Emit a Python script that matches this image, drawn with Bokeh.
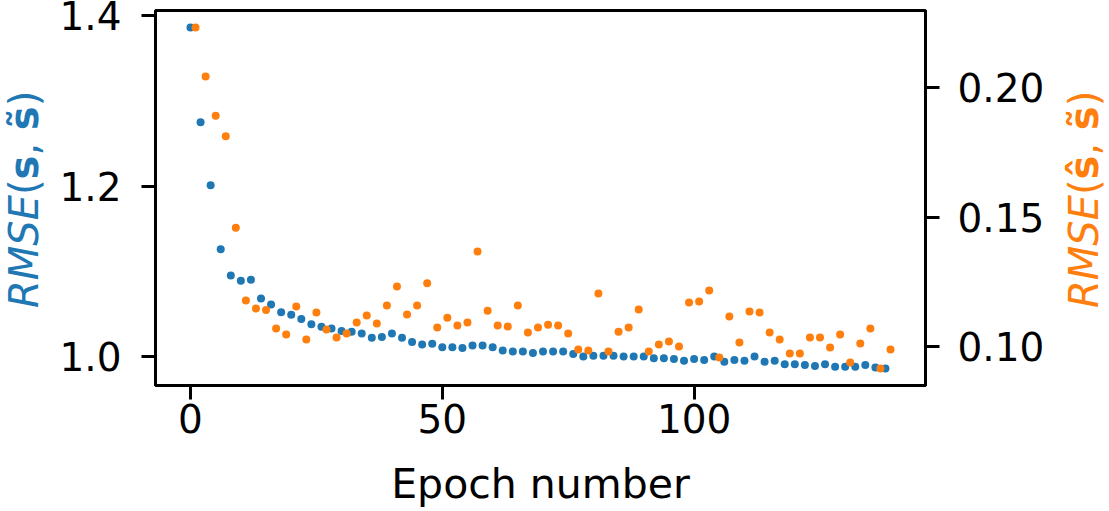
from bokeh.plotting import figure
from bokeh.layouts import row
from bokeh.models import (Range1d, LinearAxis, FixedTicker, NumeralTickFormatter, Div,
                          GlobalInlineStyleSheet)
from bokeh.embed import file_html
from bokeh.resources import INLINE

# ---- data ----
blue_epochs = [0, 2, 4, 6, 8, 10, 12, 14, 16, 18,
               20, 22, 24, 26, 28, 30, 32, 34, 36, 38,
               40, 42, 44, 46, 48, 50, 52, 54, 56, 58,
               60, 62, 64, 66, 68, 70, 72, 74, 76, 78,
               80, 82, 84, 86, 88, 90, 92, 94, 96, 98,
               100, 102, 104, 106, 108, 110, 112, 114, 116, 118,
               120, 122, 124, 126, 128, 130, 132, 134, 136, 138]
rmse_s_stilde = [1.386, 1.275, 1.201, 1.126, 1.095, 1.089, 1.090, 1.068, 1.061, 1.052,
                 1.049, 1.044, 1.038, 1.035, 1.033, 1.030, 1.029, 1.027, 1.022, 1.023,
                 1.027, 1.022, 1.017, 1.014, 1.015, 1.011, 1.011, 1.010, 1.013, 1.013,
                 1.011, 1.007, 1.006, 1.006, 1.004, 1.006, 1.006, 1.006, 1.003, 1.000,
                 1.001, 1.001, 1.001, 1.000, 1.000, 1.000, 0.998, 0.998, 0.997, 0.995,
                 0.997, 0.996, 1.000, 0.994, 0.996, 0.995, 1.000, 0.994, 0.995, 0.991,
                 0.991, 0.990, 0.989, 0.991, 0.988, 0.988, 0.988, 0.990, 0.987, 0.986]

orange_epochs = [1, 3, 5, 7, 9, 11, 13, 15, 17, 19,
                 21, 23, 25, 27, 29, 31, 33, 35, 37, 39,
                 41, 43, 45, 47, 49, 51, 53, 55, 57, 59,
                 61, 63, 65, 67, 69, 71, 73, 75, 77, 79,
                 81, 83, 85, 87, 89, 91, 93, 95, 97, 99,
                 101, 103, 105, 107, 109, 111, 113, 115, 117, 119,
                 121, 123, 125, 127, 129, 131, 133, 135, 137, 139]
rmse_shat_stilde = [0.2232, 0.2043, 0.1892, 0.1813, 0.1460, 0.1179, 0.1148, 0.1142, 0.1071, 0.1048,
                    0.1156, 0.1029, 0.1133, 0.1067, 0.1036, 0.1052, 0.1094, 0.1121, 0.1090, 0.1160,
                    0.1233, 0.1125, 0.1160, 0.1246, 0.1075, 0.1113, 0.1083, 0.1094, 0.1368, 0.1140,
                    0.1083, 0.1079, 0.1160, 0.1056, 0.1075, 0.1086, 0.1083, 0.1052, 0.0990, 0.0986,
                    0.1206, 0.0982, 0.1059, 0.1075, 0.1144, 0.0982, 0.1009, 0.1021, 0.1002, 0.1171,
                    0.1175, 0.1218, 0.0959, 0.1117, 0.1017, 0.1137, 0.1133, 0.1056, 0.1029, 0.0975,
                    0.0975, 0.1036, 0.1036, 0.0998, 0.1048, 0.0940, 0.1013, 0.1071, 0.0917, 0.0990]

x_ticks = [0, 50, 100]
left_ticks = [1.0, 1.2, 1.4]
right_ticks = [0.10, 0.15, 0.20]
x_label = "Epoch number"
left_label_html = "<i>RMSE</i>(<b>s</b>, <b>s&#771;</b>)"
right_label_html = "<i>RMSE</i>(<b>&#349;</b>, <b>s&#771;</b>)"

BLUE = "#1f77b4"
ORANGE = "#ff7f0e"
FONT = "DejaVu Sans"
FS = 39       # tick labels
FS_X = 41     # x axis title
FS_Y = 40     # y axis titles
H = 511
LEFT_W, MAIN_W, RIGHT_W = 50, 1004, 55


def padded(lo, hi, m=0.05):
    d = (hi - lo) * m
    return lo - d, hi + d


all_x = blue_epochs + orange_epochs
x0, x1 = padded(min(all_x), max(all_x))
yl0, yl1 = padded(min(rmse_s_stilde), max(rmse_s_stilde))
yr0, yr1 = padded(min(rmse_shat_stilde), max(rmse_shat_stilde))

p = figure(width=MAIN_W, height=H, x_range=Range1d(x0, x1), y_range=Range1d(yl0, yl1),
           output_backend="svg", toolbar_location=None, title=None,
           min_border_left=105, min_border_right=129, min_border_top=10, min_border_bottom=126)
p.extra_y_ranges = {"right": Range1d(yr0, yr1)}
p.grid.visible = False
p.outline_line_color = "black"
p.outline_line_width = 3
p.background_fill_color = "white"
p.border_fill_color = "white"

right_axis = LinearAxis(y_range_name="right")
p.add_layout(right_axis, "right")


def style_axis(ax, ticks, fmt, standoff):
    ax.ticker = FixedTicker(ticks=ticks)
    ax.formatter = NumeralTickFormatter(format=fmt)
    ax.axis_line_color = "black"
    ax.axis_line_width = 3
    ax.major_tick_line_color = "black"
    ax.major_tick_line_width = 3
    ax.major_tick_out = 14
    ax.major_tick_in = 0
    ax.minor_tick_line_color = None
    ax.major_label_text_font = FONT
    ax.major_label_text_font_size = f"{FS}px"
    ax.major_label_text_color = "black"
    ax.major_label_standoff = standoff


style_axis(p.xaxis[0], x_ticks, "0", 4)
style_axis(p.yaxis[0], left_ticks, "0.0", 20)
style_axis(right_axis, right_ticks, "0.00", 18)

p.xaxis[0].axis_label = x_label
p.xaxis[0].axis_label_text_font = FONT
p.xaxis[0].axis_label_text_font_size = f"{FS_X}px"
p.xaxis[0].axis_label_text_font_style = "normal"
p.xaxis[0].axis_label_text_color = "black"
p.xaxis[0].axis_label_standoff = 24

p.scatter(blue_epochs, rmse_s_stilde, size=8, color=BLUE, line_color=None)
p.scatter(orange_epochs, rmse_shat_stilde, size=8, color=ORANGE, line_color=None,
          y_range_name="right")


def side_label(html, w, left, bottom, color):
    inner = (
        f'<div style="position:relative;width:{w}px;height:{H}px;overflow:visible;">'
        f'<div style="position:absolute;left:{left}px;top:{bottom}px;'
        f'transform-origin:0 0;transform:rotate(-90deg);white-space:nowrap;'
        f"font-family:'{FONT}';font-size:{FS_Y}px;line-height:{FS_Y}px;color:{color};"
        f'margin:0;padding:0;">{html}</div></div>'
    )
    return Div(text=inner, width=w, height=H, margin=0)


left_div = side_label(left_label_html, LEFT_W, 4, 308, BLUE)
right_div = side_label(right_label_html, RIGHT_W, 10, 308, ORANGE)

layout = row(left_div, p, right_div, spacing=0)
layout.stylesheets = [GlobalInlineStyleSheet(css="html, body { margin: 0; padding: 0; overflow: hidden; }")]

open("out.html", "w").write(file_html(layout, INLINE))
